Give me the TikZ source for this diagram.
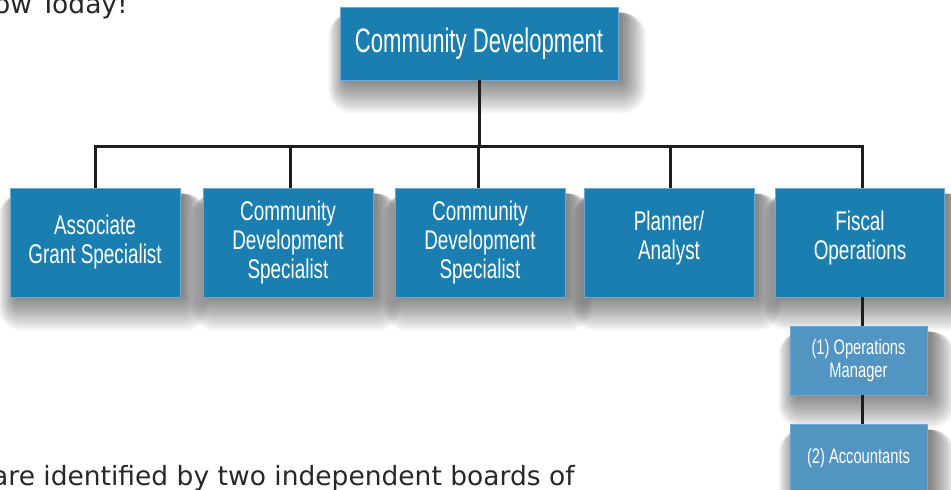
\documentclass[tikz,border=0pt]{standalone}
\usepackage{fontspec}
\usetikzlibrary{backgrounds}
\setmainfont{DejaVu Sans}
\newfontfamily\agency[FakeStretch=0.7]{Liberation Sans}
\newfontfamily\agencytop[FakeStretch=0.65]{Liberation Sans}
\definecolor{boxblue}{RGB}{27,126,177}
\definecolor{subblue}{RGB}{82,149,195}
\definecolor{edgeblue}{RGB}{110,168,210}
\definecolor{linecol}{RGB}{30,28,28}
\definecolor{textgray}{RGB}{40,40,40}
\tikzset{
  orgbox/.style={fill=boxblue, draw=edgeblue, line width=0.8pt, text=white,
    align=center, inner sep=0pt, font=\agency\fontsize{27}{29}\selectfont},
  subbox/.style={orgbox, fill=subblue, font=\agency\fontsize{21}{22.5}\selectfont},
  conn/.style={draw=linecol, line width=3pt},
  shadowlayer/.style={fill=black, opacity=0.035},
  pagetext/.style={text=textgray, font=\fontsize{26.5}{30}\selectfont, inner sep=0pt, anchor=base west}
}
\newcommand{\boxshadow}[1]{%
  \foreach \i in {1,...,16}{%
    \fill[shadowlayer, rounded corners=1.5*\i pt]
      ([xshift=8pt-1.2*\i pt, yshift=-6pt]#1.north west) rectangle
      ([xshift=2pt+1.6*\i pt, yshift=2pt-2.2*\i pt]#1.south east);
  }}
\begin{document}
\begin{tikzpicture}[x=1pt,y=-1pt]
\useasboundingbox (0,0) rectangle (951,490);
% page text (cropped)
\node[pagetext] (t1) at (-6,13) {ow Today!};
\node[pagetext] (t2) at (-8,485) {are identified by two independent boards of};
% connectors
\coordinate (bar) at (479,146);
\coordinate (b1) at (95,146);
\coordinate (b2) at (290,146);
\coordinate (b3) at (478,146);
\coordinate (b4) at (670,146);
\coordinate (b5) at (862,146);
% boxes
\node[orgbox, minimum width=278pt, minimum height=73pt, font=\agencytop\fontsize{34}{38}\selectfont] (top) at (479,43.5) {Community Development};
\node[orgbox, minimum width=170pt, minimum height=109pt] (n1) at (95,242.5) {Associate\\Grant Specialist};
\node[orgbox, minimum width=170pt, minimum height=109pt] (n2) at (288,242.5) {Community\\Development\\Specialist};
\node[orgbox, minimum width=170pt, minimum height=109pt] (n3) at (480,242.5) {Community\\Development\\Specialist};
\node[orgbox, minimum width=170pt, minimum height=109pt] (n4) at (669,242.5) {Planner/\\Analyst\\[-14pt]};
\node[orgbox, minimum width=169pt, minimum height=109pt] (n5) at (860,242.5) {Fiscal\\Operations\\[-14pt]};
\node[subbox, minimum width=137pt, minimum height=69pt] (s1) at (858.5,360.5) {(1) Operations\\Manager};
\node[subbox, minimum width=137pt, minimum height=80pt, text height=16pt, text depth=18pt] (s2) at (858.5,464) {(2) Accountants};
\begin{scope}[on background layer]
  \fill[white] (0,0) rectangle (951,490);
  \boxshadow{top}
  \boxshadow{n1}
  \boxshadow{n2}
  \boxshadow{n3}
  \boxshadow{n4}
  \boxshadow{n5}
  \boxshadow{s1}
  \boxshadow{s2}
\end{scope}
\draw[conn] (top.south -| bar) -- (bar);
\draw[conn, line cap=rect] (b1) -- (b5);
\draw[conn] (b1) -- (b1 |- n1.north);
\draw[conn] (b2) -- (b2 |- n2.north);
\draw[conn] (b3) -- (b3 |- n3.north);
\draw[conn] (b4) -- (b4 |- n4.north);
\draw[conn] (b5) -- (b5 |- n5.north);
\draw[conn] (n5.south -| b5) -- (s1.north -| b5);
\draw[conn] (s1.south -| b5) -- (s2.north -| b5);
\end{tikzpicture}
\end{document}
